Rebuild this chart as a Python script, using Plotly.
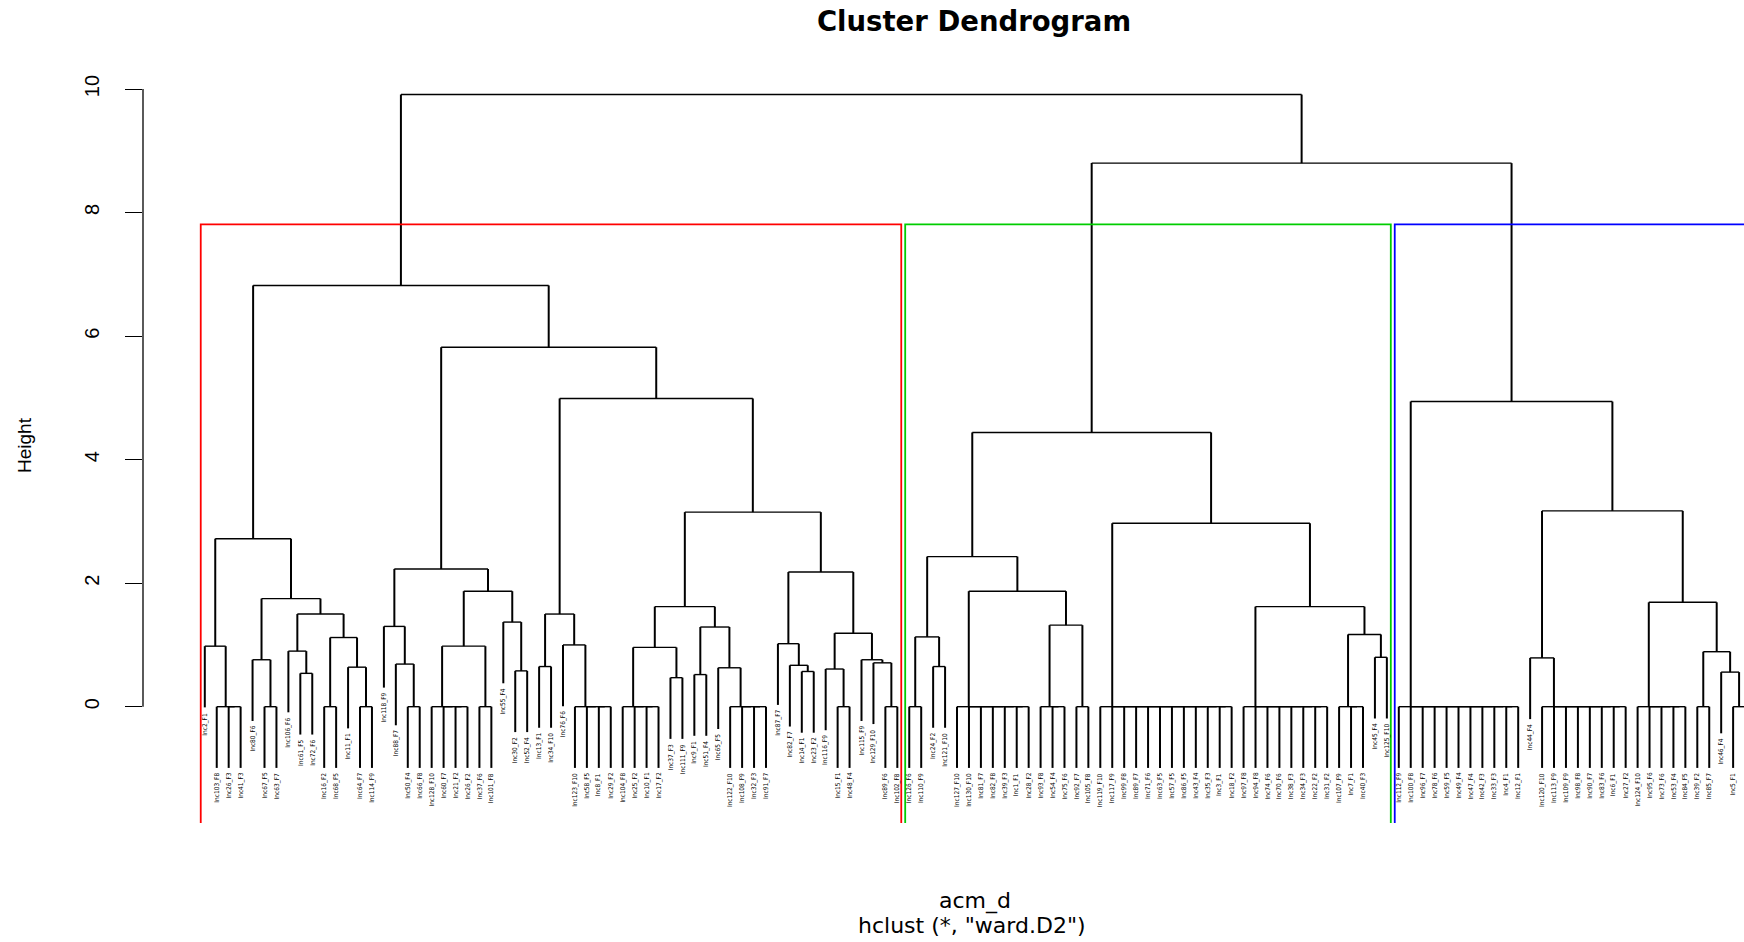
import plotly.graph_objects as go

# ---------------- data (leaf order as plotted) ----------------
leaf_labels = [
    "Inc2_F1", "Inc103_F8", "Inc26_F3", "Inc41_F3", "Inc80_F6", "Inc67_F5", "Inc63_F7", "Inc106_F6",
    "Inc61_F5", "Inc72_F6", "Inc16_F2", "Inc68_F5", "Inc11_F1", "Inc64_F7", "Inc114_F9", "Inc118_F9",
    "Inc88_F7", "Inc50_F4", "Inc66_F8", "Inc128_F10", "Inc60_F7", "Inc21_F2", "Inc26_F2", "Inc37_F6",
    "Inc101_F8", "Inc55_F4", "Inc30_F2", "Inc52_F4", "Inc13_F1", "Inc34_F10", "Inc76_F6", "Inc123_F10",
    "Inc58_F5", "Inc8_F1", "Inc29_F2", "Inc104_F8", "Inc25_F2", "Inc10_F1", "Inc17_F2", "Inc37_F3",
    "Inc111_F9", "Inc9_F1", "Inc51_F4", "Inc65_F5", "Inc122_F10", "Inc108_F9", "Inc32_F3", "Inc91_F7",
    "Inc87_F7", "Inc82_F7", "Inc14_F1", "Inc23_F2", "Inc116_F9", "Inc15_F1", "Inc48_F4", "Inc115_F9",
    "Inc129_F10", "Inc89_F6", "Inc102_F8",
    "Inc126_F6", "Inc110_F9", "Inc24_F2", "Inc121_F10", "Inc127_F10", "Inc130_F10", "Inc81_F7",
    "Inc82_F8", "Inc39_F3", "Inc1_F1", "Inc28_F2", "Inc93_F8", "Inc54_F4", "Inc75_F6", "Inc92_F7",
    "Inc105_F8", "Inc119_F10", "Inc117_F9", "Inc99_F8", "Inc89_F7", "Inc71_F6", "Inc63_F5", "Inc57_F5",
    "Inc86_F5", "Inc43_F4", "Inc35_F3", "Inc3_F1", "Inc18_F2", "Inc97_F8", "Inc94_F8", "Inc74_F6",
    "Inc70_F6", "Inc38_F3", "Inc34_F3", "Inc22_F2", "Inc31_F2", "Inc107_F9", "Inc7_F1", "Inc40_F3",
    "Inc45_F4", "Inc125_F10",
    "Inc112_F9", "Inc100_F8", "Inc96_F7", "Inc78_F6", "Inc59_F5", "Inc49_F4", "Inc47_F4", "Inc42_F3",
    "Inc33_F3", "Inc4_F1", "Inc12_F1", "Inc44_F4", "Inc120_F10", "Inc113_F9", "Inc109_F9", "Inc98_F8",
    "Inc90_F7", "Inc83_F6", "Inc6_F1", "Inc27_F2", "Inc124_F10", "Inc95_F6", "Inc73_F6", "Inc53_F4",
    "Inc84_F5", "Inc39_F2", "Inc85_F7", "Inc46_F4", "Inc5_F1", "Inc19_F2",
]

# R-style merge matrix: negative = leaf position, positive = earlier merge
merge_left = [
    -3, -2, -1, -6, -5, -9, -8, -11, -14, -13, 8, 7, 5, 3, -18, -17, -16, -22, -21, -20,
    -24, 20, -27, -26, 22, 17, -29, -34, -33, -32, -31, 27, -38, -37, -36, -40, 35, -42, -47, -46,
    -45, -44, 38, 37, -51, -50, -49, -54, -53, -58, -57, -56, 49, 47, 44, 32, 26, 14,
    -60, -62, 59, -69, -68, -67, -66, -65, -64, -72, -71, -74, 69, 67, 61,
    -86, -85, -84, -83, -82, -81, -80, -79, -78, -77, -76,
    -94, -93, -92, -91, -90, -89, -88,
    -97, -96, -99, 93, 91, 84, 73,
    -110, -109, -108, -107, -106, -105, -104, -103, -102, -101,
    -119, -118, -117, -116, -115, -114, -113,
    -112,
    -124, -123, -122, -121,
    -126, -129, -128, 121, 120, 116, 108, 98, 58,
]
merge_right = [
    -4, 1, 2, -7, 4, -10, 6, -12, -15, 9, 10, 11, 12, 13, -19, 15, 16, -23, 18, 19,
    -25, 21, -28, 23, 24, 25, -30, -35, 28, 29, 30, 31, -39, 33, 34, -41, 36, -43, -48, 39,
    40, 41, 42, 43, -52, 45, 46, -55, 48, -59, 50, 51, 52, 53, 54, 55, 56, 57,
    -61, -63, 60, -70, 62, 63, 64, 65, 66, -73, 68, -75, 70, 71, 72,
    -87, 74, 75, 76, 77, 78, 79, 80, 81, 82, 83,
    -95, 85, 86, 87, 88, 89, 90,
    -98, 92, -100, 94, 95, 96, 97,
    -111, 99, 100, 101, 102, 103, 104, 105, 106, 107,
    -120, 109, 110, 111, 112, 113, 114,
    115,
    -125, 117, 118, 119,
    -127, -130, 122, 123, 124, 125, 126, 127, 128,
]
merge_height = [
    0, 0, 0.98, 0, 0.76, 0.54, 0.90, 0, 0, 0.64, 1.12, 1.50, 1.75, 2.72, 0, 0.69, 1.30, 0, 0, 0,
    0, 0.98, 0.58, 1.37, 1.87, 2.23, 0.65, 0, 0, 0, 1.00, 1.50, 0, 0, 0, 0.47, 0.96, 0.52, 0, 0,
    0, 0.63, 1.29, 1.62, 0.57, 0.67, 1.02, 0, 0.61, 0, 0.71, 0.76, 1.19, 2.18, 3.15, 4.99, 5.82, 6.82,
    0, 0.65, 1.13, 0, 0, 0, 0, 0, 0, 0, 0, 0, 1.32, 1.87, 2.43,
    0, 0, 0, 0, 0, 0, 0, 0, 0, 0, 0,
    0, 0, 0, 0, 0, 0, 0,
    0, 0, 0.80, 1.17, 1.62, 2.97, 4.44,
    0, 0, 0, 0, 0, 0, 0, 0, 0, 0,
    0, 0, 0, 0, 0, 0, 0,
    0.79,
    0, 0, 0, 0,
    0, 0, 0.56, 0.89, 1.69, 3.17, 4.94, 8.80, 9.91,
]
y_ticks = [0, 2, 4, 6, 8, 10]
k_clusters = 3
rect_colors = ["#FF0000", "#00CD00", "#0000FF"]
hang = 0.1

title_text = "Cluster Dendrogram"
xlab_text = "acm_d"
sub_text = 'hclust (*, "ward.D2")'
ylab_text = "Height"

# ---------------- layout geometry (pixels) ----------------
W, H = 1744, 942
PL, PR, PT, PB = 143, 1744, 60, 823
leaf1_px, leaf_step_px = 204.8, 11.94
zero_px, unit_px = 706.7, 61.77
x_range = [1 - (leaf1_px - PL) / leaf_step_px, 1 + (PR - leaf1_px) / leaf_step_px]
y_range = [(zero_px - PB) / unit_px, (zero_px - PT) / unit_px]


def px_to_paper_x(px):
    return (px - PL) / (PR - PL)


def px_to_paper_y(py):
    return (PB - py) / (PB - PT)


# ---------------- build dendrogram segments ----------------
n_merge = len(merge_height)
hang_len = hang * max(merge_height)
node_x = [0.0] * n_merge


def child(ref):
    if ref < 0:
        return float(-ref), None
    return node_x[ref - 1], merge_height[ref - 1]


vx, vy, hx, hy = [], [], [], []
leaf_bottom = {}
for i in range(n_merge):
    h = merge_height[i]
    xl, hl = child(merge_left[i])
    xr, hr = child(merge_right[i])
    node_x[i] = (xl + xr) / 2
    hx += [xl, xr, None]
    hy += [h, h, None]
    for ref, x, hc in ((merge_left[i], xl, hl), (merge_right[i], xr, hr)):
        if ref < 0:
            bottom = h - hang_len
            leaf_bottom[-ref] = bottom
        else:
            bottom = hc
        vx += [x, x, None]
        vy += [h, bottom, None]

fig = go.Figure()
fig.add_trace(go.Scatter(x=vx, y=vy, mode="lines", line=dict(color="#000000", width=2.0),
                         hoverinfo="skip", showlegend=False))
fig.add_trace(go.Scatter(x=hx, y=hy, mode="lines", line=dict(color="#000000", width=1.4),
                         hoverinfo="skip", showlegend=False))

# ---------------- rect.hclust (k = 3) ----------------
order = sorted(range(n_merge), key=lambda i: merge_height[i], reverse=True)
top = set(order[:k_clusters - 1])
roots = []
for i in top:
    for ref in (merge_left[i], merge_right[i]):
        if ref < 0 or (ref - 1) not in top:
            roots.append(ref)


def leaves_of(ref):
    if ref < 0:
        return [-ref]
    return leaves_of(merge_left[ref - 1]) + leaves_of(merge_right[ref - 1])


groups = sorted([leaves_of(r) for r in roots], key=min)
hs = sorted(merge_height, reverse=True)
rect_top = (hs[k_clusters - 2] + hs[k_clusters - 1]) / 2
for g, col in zip(groups, rect_colors):
    x0, x1 = min(g) - 0.34, max(g) + 0.33
    yb = y_range[0] - 1
    fig.add_trace(go.Scatter(x=[x0, x0, x1, x1], y=[yb, rect_top, rect_top, yb], mode="lines",
                             line=dict(color=col, width=1.8), hoverinfo="skip", showlegend=False))

# ---------------- leaf labels ----------------
annotations = []
for pos, lab in enumerate(leaf_labels, start=1):
    annotations.append(dict(
        x=pos, y=leaf_bottom[pos], xref="x", yref="y", text=lab, showarrow=False,
        textangle=-90, xanchor="center", yanchor="top", yshift=-4,
        font=dict(family="Liberation Sans Narrow, DejaVu Sans Condensed, Liberation Sans",
                  size=6.5, color="#000000"),
        borderpad=0,
    ))

annotations.append(dict(
    x=px_to_paper_x(24), y=px_to_paper_y(445), xref="paper", yref="paper", text=ylab_text,
    showarrow=False, textangle=-90, xanchor="center", yanchor="middle",
    font=dict(family="Liberation Sans, Arial", size=19, color="#000000")))
annotations.append(dict(
    x=px_to_paper_x(975), y=px_to_paper_y(901), xref="paper", yref="paper", text=xlab_text,
    showarrow=False, xanchor="center", yanchor="middle",
    font=dict(family="DejaVu Sans", size=22, color="#000000")))
annotations.append(dict(
    x=px_to_paper_x(972), y=px_to_paper_y(925), xref="paper", yref="paper", text=sub_text,
    showarrow=False, xanchor="center", yanchor="middle",
    font=dict(family="DejaVu Sans", size=22, color="#000000")))

fig.update_layout(
    width=W, height=H,
    margin=dict(l=PL, r=W - PR, t=PT, b=H - PB, pad=0),
    paper_bgcolor="white", plot_bgcolor="white",
    showlegend=False,
    title=dict(text="<b>" + title_text + "</b>", x=974 / W, xref="container", xanchor="center",
               y=1 - 21 / H, yref="container", yanchor="middle",
               font=dict(family="DejaVu Sans", size=27.5, color="#000000")),
    xaxis=dict(visible=False, range=x_range, fixedrange=True),
    yaxis=dict(range=y_range, tickvals=y_ticks, ticktext=[str(v) for v in y_ticks],
               ticks="outside", ticklen=17, tickwidth=1.3, tickcolor="#000000",
               tickangle=-90, ticklabelstandoff=18,
               tickfont=dict(family="Liberation Sans, Arial", size=20, color="#000000"),
               showline=False, showgrid=False, zeroline=False, fixedrange=True),
    annotations=annotations,
    shapes=[dict(type="line", xref="paper", yref="y", x0=0, x1=0, y0=y_ticks[0], y1=y_ticks[-1],
                 line=dict(color="#000000", width=1.3))],
)

fig.write_html("out.html")
